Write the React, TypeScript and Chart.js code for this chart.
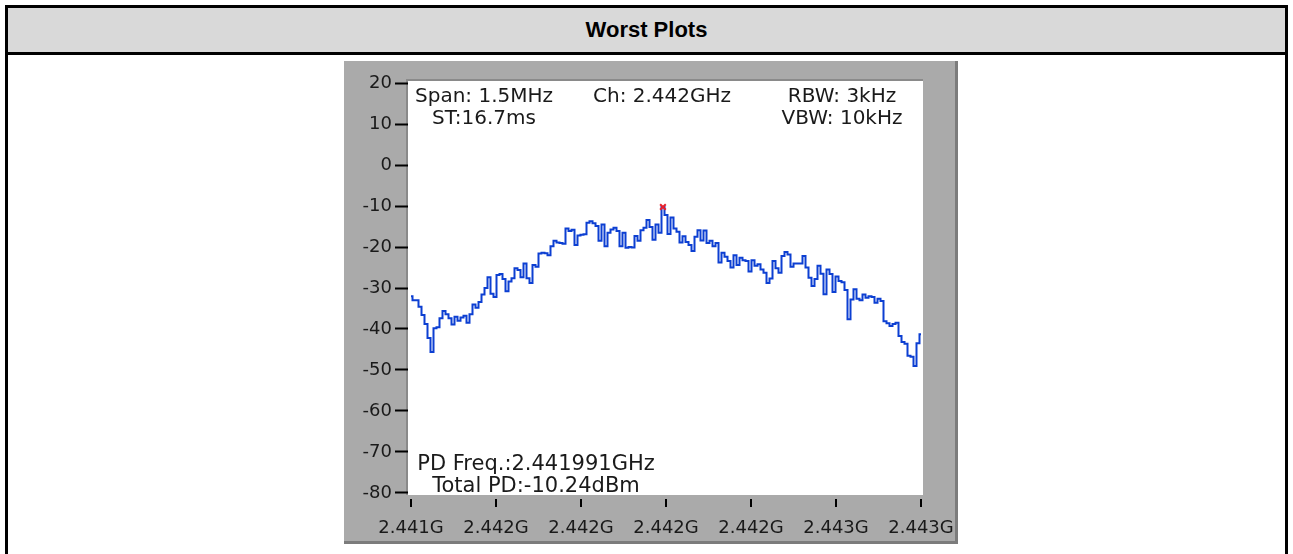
import React, { useEffect, useRef } from "react";
import { Chart, registerables } from "chart.js";

Chart.register(...registerables);

const title = "Worst Plots";

// Sweep: 2.44125 GHz .. 2.44275 GHz (span 1.5 MHz), levels in dBm
const freqStartGHz = 2.44125;
const freqStopGHz = 2.44275;
const levels = [
  -32.0, -33.0, -33.0, -34.6, -36.6, -38.8, -42.2, -45.6, -39.8, -39.6,
  -37.4, -35.6, -36.4, -37.4, -38.9, -37.0, -38.0, -37.2, -36.8, -38.5,
  -36.4, -34.0, -34.8, -33.4, -31.6, -30.0, -27.4, -31.4, -32.2, -26.8,
  -26.6, -27.8, -30.8, -28.4, -27.6, -25.2, -25.6, -27.4, -24.0, -27.6,
  -28.8, -24.4, -24.8, -21.6, -21.4, -21.5, -22.0, -19.8, -18.5, -18.9,
  -19.0, -19.2, -15.5, -16.1, -15.8, -19.5, -17.2, -17.0, -16.9, -14.1,
  -13.7, -14.2, -14.9, -18.5, -14.5, -19.8, -16.5, -15.7, -15.3, -16.1,
  -19.8, -16.5, -20.2, -20.0, -20.1, -17.3, -18.5, -15.9, -15.3, -13.4,
  -15.1, -18.2, -14.5, -16.5, -10.24, -12.2, -16.8, -12.8, -15.5, -16.3,
  -18.9, -17.4, -18.8, -19.5, -21.0, -17.5, -15.9, -18.4, -16.0, -19.0,
  -18.5, -19.8, -19.0, -23.8, -21.4, -22.4, -23.4, -25.0, -22.0, -24.4,
  -22.6, -23.2, -23.4, -26.0, -23.2, -24.6, -24.2, -25.5, -26.3, -28.8,
  -27.7, -23.4, -25.2, -26.3, -22.2, -21.2, -21.8, -24.8, -24.0, -24.0,
  -24.0, -22.2, -25.0, -27.5, -29.5, -27.8, -24.6, -26.5, -31.5, -25.5,
  -26.6, -31.0, -27.2, -28.3, -28.6, -30.5, -37.6, -32.8, -30.3, -32.6,
  -33.0, -31.6, -32.4, -32.0, -32.2, -33.6, -32.6, -33.2, -38.1, -38.6,
  -39.3, -38.8, -38.5, -41.7, -43.2, -43.6, -46.5, -46.8, -49.0, -43.5,
  -41.3,
];

const peakFreqGHz = 2.441991;
const peakLevel = -10.24;

const xTickValues = [2.44125, 2.4415, 2.44175, 2.442, 2.44225, 2.4425, 2.44275];
const xTickLabels = ["2.441G", "2.442G", "2.442G", "2.442G", "2.442G", "2.443G", "2.443G"];
const yTickValues = [20, 10, 0, -10, -20, -30, -40, -50, -60, -70, -80];
const yTickLabels = ["20", "10", "0", "-10", "-20", "-30", "-40", "-50", "-60", "-70", "-80"];

const infoTopLeft = ["Span: 1.5MHz", "ST:16.7ms"];
const infoTopCenter = ["Ch: 2.442GHz"];
const infoTopRight = ["RBW: 3kHz", "VBW: 10kHz"];
const infoBottom = ["PD Freq.:2.441991GHz", "Total PD:-10.24dBm"];

const PANEL_GRAY = "#aaaaaa";
const TEXT = "#1a1a1a";
const TRACE = "#0c3fd2";

export default function App() {
  const ref = useRef<HTMLCanvasElement>(null);

  useEffect(() => {
    const canvas = ref.current;
    if (!canvas) return;
    const n = levels.length;
    const step = (freqStopGHz - freqStartGHz) / (n - 1);
    const points = levels.map((v, i) => ({ x: freqStartGHz + i * step, y: v }));
    const pxPerGHz = 340000;
    const xMin = freqStartGHz - 3 / pxPerGHz;
    const xMax = freqStopGHz + 2 / pxPerGHz;

    const framePlugin = {
      id: "frame",
      beforeDraw(chart: any) {
        const { ctx, width, height, chartArea } = chart;
        const { left, top, right, bottom } = chartArea;
        ctx.save();
        ctx.fillStyle = PANEL_GRAY;
        ctx.fillRect(0, 0, width, height);
        ctx.fillStyle = "#7c7c7c";
        ctx.fillRect(width - 3, 0, 3, height);
        ctx.fillRect(0, height - 3, width, 3);
        ctx.fillStyle = "#ffffff";
        ctx.fillRect(left, top, right - left, bottom - top);
        ctx.fillStyle = "#8a8a8a";
        ctx.fillRect(left - 2, top - 2, right - left + 2, 2);
        ctx.fillRect(left - 2, top - 2, 2, bottom - top + 2);
        ctx.restore();
      },
      afterDraw(chart: any) {
        const { ctx, chartArea, scales } = chart;
        const { left, bottom } = chartArea;
        const top = chartArea.top;
        ctx.save();
        // x tick marks
        ctx.strokeStyle = "#000";
        ctx.lineWidth = 2;
        xTickValues.forEach((v) => {
          const px = Math.round(scales.x.getPixelForValue(v));
          ctx.beginPath();
          ctx.moveTo(px, bottom + 4);
          ctx.lineTo(px, bottom + 12);
          ctx.stroke();
        });
        // info text
        ctx.fillStyle = TEXT;
        ctx.textAlign = "center";
        ctx.textBaseline = "alphabetic";
        const lh = 22;
        const drawBlock = (lines: string[], cx: number, baseY: number) => {
          lines.forEach((s, i) => ctx.fillText(s, cx, baseY + i * lh));
        };
        ctx.font = '20px "DejaVu Sans", sans-serif';
        drawBlock(infoTopLeft, left + 76, top + 21);
        drawBlock(infoTopCenter, left + 254, top + 21);
        drawBlock(infoTopRight, left + 434, top + 21);
        ctx.font = '21px "DejaVu Sans", sans-serif';
        drawBlock(infoBottom, left + 128, bottom - 25);
        ctx.restore();
      },
    };

    const chart = new Chart(canvas, {
      type: "line",
      data: {
        datasets: [
          {
            data: [{ x: peakFreqGHz, y: peakLevel }],
            showLine: false,
            pointStyle: "crossRot",
            pointRadius: 4,
            pointBorderWidth: 2,
            borderColor: "#e8202a",
            backgroundColor: "#e8202a",
            order: 0,
          } as any,
          {
            data: points,
            borderColor: TRACE,
            borderWidth: 2,
            pointRadius: 0,
            stepped: "middle",
            fill: false,
            order: 1,
          } as any,
        ],
      },
      options: {
        animation: false,
        responsive: false,
        events: [],
        layout: { padding: { top: 20, right: 35, left: 0, bottom: 0 } },
        plugins: {
          legend: { display: false },
          tooltip: { enabled: false },
          title: { display: false },
        },
        scales: {
          x: {
            type: "linear",
            min: xMin,
            max: xMax,
            afterBuildTicks: (s: any) => {
              s.ticks = xTickValues.map((v) => ({ value: v }));
            },
            afterFit: (s: any) => {
              s.height = 49;
              s.paddingLeft = 0;
              s.paddingRight = 0;
            },
            grid: { display: false },
            border: { display: false },
            ticks: {
              autoSkip: false,
              maxRotation: 0,
              minRotation: 0,
              padding: 15,
              color: TEXT,
              font: { family: '"DejaVu Sans", sans-serif', size: 18 },
              callback: (_v: any, i: number) => xTickLabels[i],
            },
          },
          y: {
            type: "linear",
            min: -80.5,
            max: 20.5,
            afterBuildTicks: (s: any) => {
              s.ticks = yTickValues.map((v) => ({ value: v }));
            },
            afterFit: (s: any) => {
              s.width = 64;
              s.paddingTop = 0;
              s.paddingBottom = 0;
            },
            grid: {
              display: true,
              drawOnChartArea: false,
              drawTicks: true,
              tickLength: 13,
              tickWidth: 2,
              tickColor: "#000",
            },
            border: { display: false },
            ticks: {
              padding: 3,
              color: TEXT,
              font: { family: '"DejaVu Sans", sans-serif', size: 18 },
              callback: (_v: any, i: number) => yTickLabels[i],
            },
          },
        },
      } as any,
      plugins: [framePlugin],
    });
    return () => chart.destroy();
  }, []);

  return (
    <>
      <div
        style={{
          position: "absolute",
          left: 5,
          top: 5,
          width: 1283,
          height: 549,
          boxSizing: "border-box",
          border: "3px solid #000",
          borderBottom: "none",
          background: "#fff",
          overflow: "hidden",
        }}
      >
        <div
          style={{
            height: 44,
            background: "#d9d9d9",
            borderBottom: "3px solid #000",
            display: "flex",
            alignItems: "center",
            justifyContent: "center",
            font: 'bold 22px "Liberation Sans", Arial, sans-serif',
            color: "#000",
          }}
        >
          {title}
        </div>
      </div>
      <canvas
        ref={ref}
        width={614}
        height={483}
        style={{ position: "absolute", left: 344, top: 61, display: "block" }}
      />
    </>
  );
}
